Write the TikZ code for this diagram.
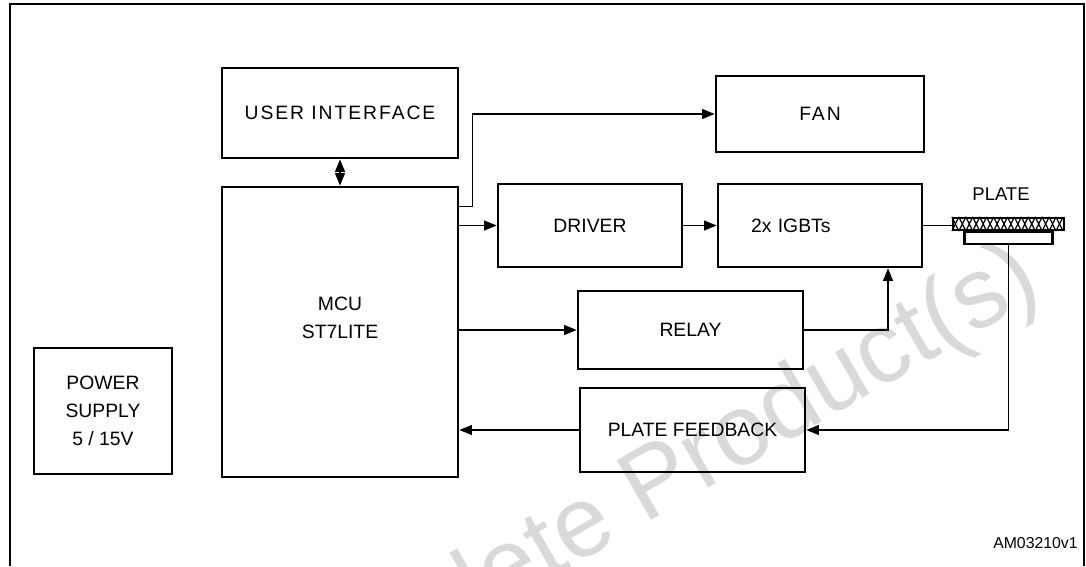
\documentclass[tikz,border=0pt]{standalone}
\usepackage{fontspec}
\setmainfont{Liberation Sans}
\usepackage{tikz}
\usetikzlibrary{positioning, arrows.meta}

\begin{document}
\begin{tikzpicture}[
    box/.style={draw, line width=1.6pt, inner sep=0pt, align=center,
                font=\fontsize{11}{16}\selectfont},
    spaced/.style={font=\fontsize{11}{16}\selectfont\addfontfeature{LetterSpace=10}},
    conn/.style={line width=0.6pt},
    arr/.style={conn, -{Triangle[length=2.5mm,width=2mm]}},
    dblarr/.style={conn, {Triangle[length=2.5mm,width=2mm]}-{Triangle[length=2.5mm,width=2mm]}}
  ]
  \useasboundingbox (0,0) rectangle (21.72,11.32);

  % ── Watermark ──
  \begin{scope}
    \clip (0,0) rectangle (21.72,11.32);
    \node[rotate=30, anchor=base east, inner sep=0pt, text=black!15,
          font=\fontsize{57}{57}\selectfont]
      (wm) at (20.90,5.45) {Obsolete Product(s)};
  \end{scope}

  % ── Frame ──
  \draw[line width=1.6pt] (0.20,0) -- (0.20,11.24) -- (21.68,11.24) -- (21.68,0);

  % ── Blocks ──
  \node[box, spaced, minimum width=4.72cm, minimum height=1.80cm] (ui) at (6.80,9.06) {USER INTERFACE};
  \node[box, minimum width=4.72cm, minimum height=5.80cm] (mcu) at (6.80,4.68) {};
  \node[align=center, font=\fontsize{11}{16}\selectfont] (mcutext) at ([yshift=0.28cm]mcu.center) {MCU\\ST7LITE};
  \node[box, spaced, minimum width=4.16cm, minimum height=1.52cm] (fan) at (16.40,9.04) {FAN};
  \node[box, minimum width=3.68cm, minimum height=1.66cm] (driver) at (11.80,6.81) {DRIVER};
  \node[box, minimum width=4.08cm, minimum height=1.66cm, text width=2.76cm,
        inner xsep=0.66cm, align=left] (igbt) at (16.40,6.81) {2x IGBTs};
  \node[box, minimum width=4.50cm, minimum height=1.56cm] (relay) at (13.81,4.72) {RELAY};
  \node[box, minimum width=4.50cm, minimum height=1.68cm] (fb) at (13.85,2.72) {PLATE FEEDBACK};
  \node[box, minimum width=2.76cm, minimum height=2.52cm] (psu) at (2.06,3.10) {POWER\\SUPPLY\\5 / 15V};

  % ── Plate ──
  \node[draw, line width=1.2pt, minimum width=2.22cm, minimum height=0.24cm, inner sep=0pt]
    (plate) at (20.17,6.84) {};
  \foreach \i in {0,...,15} {
    \draw[line width=0.7pt] ([xshift=\i*1.3875mm]plate.south west) -- ([xshift=\i*1.3875mm+1.3875mm]plate.north west);
    \draw[line width=0.7pt] ([xshift=\i*1.3875mm]plate.north west) -- ([xshift=\i*1.3875mm+1.3875mm]plate.south west);
  }
  \node[draw, line width=1.2pt, minimum width=1.76cm, minimum height=0.24cm, inner sep=0pt,
        anchor=north] (plbase) at (plate.south) {};
  \node[font=\fontsize{10.5}{12}\selectfont] (platelbl) at (20.02,7.44) {PLATE};

  \node[anchor=east, inner sep=0pt, font=\fontsize{9}{11}\selectfont] (amref) at (21.56,0.46) {AM03210v1};

  % ── Connections ──
  \draw[dblarr] (ui.south) -- (mcu.north);
  \draw[arr] ([yshift=-0.42cm]mcu.north east) -| ([xshift=-4.84cm]fan.west) -- (fan.west);
  \draw[arr] (mcu.east |- driver.west) -- (driver.west);
  \draw[arr] (driver.east) -- (igbt.west);
  \draw[arr] (mcu.east |- relay.west) -- (relay.west);
  \draw[arr] (relay.east) -| ([xshift=1.36cm]igbt.south);
  \draw[conn] (igbt.east) -- (igbt.east -| plate.west);
  \draw[arr] (plbase.south) |- (fb.east);
  \draw[arr] (fb.west) -- (mcu.east |- fb.west);
\end{tikzpicture}
\end{document}
